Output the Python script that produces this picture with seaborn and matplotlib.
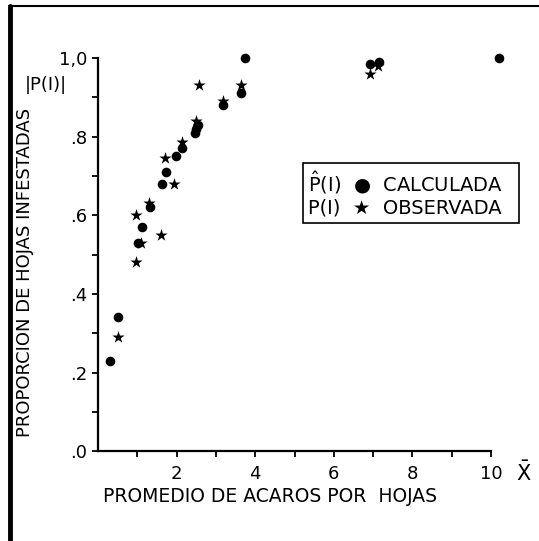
import numpy as np
import pandas as pd
import matplotlib
matplotlib.use("Agg")
import matplotlib.pyplot as plt
import seaborn as sns

# calculated proportion (circles)
calc_x = [0.30, 0.51, 1.01, 1.11, 1.32, 1.62, 1.73, 1.99, 2.14, 2.47, 2.50, 2.53, 3.19, 3.64, 3.73, 6.91, 7.16, 10.2]
calc_y = [0.23, 0.34, 0.53, 0.57, 0.62, 0.68, 0.71, 0.75, 0.77, 0.81, 0.82, 0.83, 0.88, 0.91, 1.00, 0.985, 0.99, 1.00]

# observed proportion (stars)
obs_x = [0.50, 0.97, 0.97, 1.08, 1.29, 1.59, 1.70, 1.94, 2.14, 2.49, 2.56, 3.17, 3.64, 6.91, 7.13]
obs_y = [0.29, 0.48, 0.60, 0.53, 0.63, 0.55, 0.745, 0.68, 0.785, 0.84, 0.93, 0.89, 0.93, 0.96, 0.98]

x_ticks = [2, 4, 6, 8, 10]
y_ticks = [0, 0.2, 0.4, 0.6, 0.8, 1.0]
y_ticklabels = [".0", ".2", ".4", ".6", ".8", "1,0"]

df_calc = pd.DataFrame({"x": calc_x, "y": calc_y})
df_obs = pd.DataFrame({"x": obs_x, "y": obs_y})

sns.set_style("ticks")
plt.rcParams["font.family"] = ["DejaVu Sans"]
# plain black like the printed original
for key in ["text.color", "axes.labelcolor", "xtick.color", "ytick.color", "axes.edgecolor"]:
    plt.rcParams[key] = "black"

fig = plt.figure(figsize=(5.39, 5.41), dpi=100)
ax = fig.add_axes([0.182, 0.166, 0.729, 0.727])

sns.scatterplot(data=df_calc, x="x", y="y", marker="o", color="black", s=48,
                edgecolor="black", linewidth=0, ax=ax, clip_on=False)
sns.scatterplot(data=df_obs, x="x", y="y", marker="*", color="black", s=85,
                edgecolor="black", linewidth=0, ax=ax, clip_on=False)

ax.set_xlim(0, 10)
ax.set_ylim(0, 1.0)
ax.set_xticks(x_ticks)
ax.set_xticks([1, 3, 5, 7, 9], minor=True)
ax.set_yticks(y_ticks)
ax.set_yticklabels(y_ticklabels)
ax.set_yticks([0.1, 0.3, 0.5, 0.7, 0.9], minor=True)
ax.tick_params(which="both", direction="out", length=4, width=1.3, labelsize=13, pad=4)
ax.tick_params(axis="x", pad=6)

for side in ["top", "right"]:
    ax.spines[side].set_visible(False)
for side in ["left", "bottom"]:
    ax.spines[side].set_linewidth(1.6)

ax.set_xlabel("PROMEDIO DE ACAROS POR  HOJAS", fontsize=13.5)
ax.xaxis.set_label_coords(0.438, -0.09)
ax.set_ylabel("PROPORCION DE HOJAS INFESTADAS", fontsize=13)
ax.yaxis.set_label_coords(-0.163, 0.455)

fig.text(0.085, 0.843, "|P(I)|", fontsize=13, ha="center", va="center")
fig.text(0.972, 0.126, r"$\bar{\mathrm{X}}$", fontsize=15, ha="center", va="center")

ax.text(0.535, 0.718, r"$\hat{\mathrm{P}}$(I)  ●  CALCULADA  " + "\n" + "P(I)  ★  OBSERVADA  ",
        transform=ax.transAxes, fontsize=14, va="top", ha="left", linespacing=1.2,
        bbox=dict(boxstyle="square,pad=0.25", facecolor="white", edgecolor="black", linewidth=1.2))

# outer frame of the scanned figure
fig.add_artist(plt.Line2D([0.018, 0.018], [0.0, 0.988], color="black", linewidth=3.5))
fig.add_artist(plt.Line2D([0.016, 1.0], [0.988, 0.988], color="black", linewidth=1.5))

fig.savefig("out.png", dpi=100)
